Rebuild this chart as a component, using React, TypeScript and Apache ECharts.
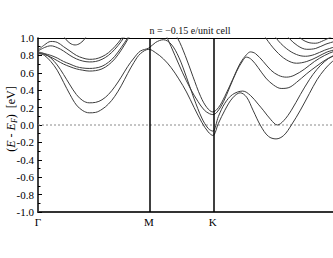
import React, { useEffect, useRef } from "react";
import * as echarts from "echarts";

const kM = 0.866;
const kK = 1.366;
const kView = 2.305;
const kTicks = [0, kM, kK];
const kLabels = ["Γ", "M", "K"];
const titleText = "n = −0.15 e/unit cell";
const yName = "{n|(}{i|E}{n| - }{i|E}{s|F}{n|)  [eV]}";
const fermi = [[0, 0], [kView, 0]];

const bandA = [
  [0, 0.83], [0.05, 0.8], [0.1, 0.73], [0.15, 0.63], [0.2, 0.49], [0.25, 0.35], [0.3, 0.23], [0.35, 0.165], [0.4, 0.14], [0.45, 0.145], [0.5, 0.18], [0.55, 0.24], [0.6, 0.33], [0.65, 0.45], [0.7, 0.59], [0.75, 0.72], [0.8, 0.82], [0.866, 0.87],
  [0.92, 0.83], [0.98, 0.76], [1.04, 0.66], [1.1, 0.53], [1.16, 0.38], [1.22, 0.2], [1.28, 0.03], [1.33, -0.08], [1.366, -0.12],
  [1.41, 0.02], [1.46, 0.17], [1.52, 0.31], [1.58, 0.37], [1.63, 0.32], [1.68, 0.17], [1.74, -0.01], [1.8, -0.13], [1.86, -0.16], [1.92, -0.12], [1.98, 0.0], [2.05, 0.17], [2.12, 0.36], [2.18, 0.52], [2.24, 0.64], [2.3, 0.73], [2.366, 0.79],
];
const bandB = [
  [0, 0.84], [0.05, 0.82], [0.1, 0.77], [0.15, 0.69], [0.2, 0.58], [0.25, 0.46], [0.3, 0.35], [0.35, 0.28], [0.4, 0.255], [0.45, 0.26], [0.5, 0.29], [0.55, 0.35], [0.6, 0.44], [0.65, 0.55], [0.7, 0.67], [0.75, 0.77], [0.8, 0.85], [0.866, 0.885],
  [0.92, 0.95], [0.98, 0.98], [1.04, 0.93], [1.1, 0.78], [1.16, 0.55], [1.22, 0.3], [1.28, 0.08], [1.33, -0.04], [1.366, -0.07],
  [1.41, 0.1], [1.46, 0.25], [1.52, 0.35], [1.6, 0.39], [1.66, 0.34], [1.72, 0.24], [1.76, 0.17], [1.82, 0.06], [1.87, 0.0], [1.92, 0.05], [1.98, 0.17], [2.05, 0.35], [2.12, 0.52], [2.18, 0.64], [2.24, 0.73], [2.3, 0.79], [2.366, 0.82],
];
const bandC = [
  [0, 0.82], [0.05, 0.81], [0.1, 0.78], [0.15, 0.74], [0.2, 0.7], [0.25, 0.67], [0.3, 0.645], [0.35, 0.63], [0.4, 0.62], [0.45, 0.625], [0.5, 0.645], [0.55, 0.69], [0.6, 0.76], [0.65, 0.86], [0.7, 0.98], [0.75, 1.1], [0.8, 1.2], [0.866, 1.25],
  [0.95, 1.18], [1.01, 1.0], [1.07, 0.8], [1.13, 0.6], [1.19, 0.42], [1.25, 0.27], [1.3, 0.17], [1.34, 0.13], [1.366, 0.12],
  [1.4, 0.15], [1.45, 0.27], [1.5, 0.44], [1.55, 0.61], [1.6, 0.74], [1.63, 0.78], [1.67, 0.75], [1.72, 0.66], [1.78, 0.54], [1.84, 0.46], [1.9, 0.42], [1.96, 0.43], [2.02, 0.49], [2.1, 0.59], [2.18, 0.68], [2.26, 0.76], [2.366, 0.83],
];
const bandD = [
  [0, 0.83], [0.05, 0.82], [0.1, 0.8], [0.15, 0.77], [0.2, 0.73], [0.25, 0.7], [0.3, 0.67], [0.35, 0.655], [0.4, 0.65], [0.45, 0.655], [0.5, 0.675], [0.55, 0.72], [0.6, 0.79], [0.65, 0.89], [0.7, 1.0], [0.75, 1.12], [0.8, 1.22], [0.866, 1.3],
  [0.95, 1.25], [1.03, 1.12], [1.09, 1.0], [1.15, 0.8], [1.21, 0.56], [1.27, 0.33], [1.32, 0.2], [1.366, 0.15],
  [1.41, 0.2], [1.46, 0.33], [1.52, 0.52], [1.58, 0.71], [1.63, 0.81], [1.66, 0.84], [1.7, 0.82], [1.76, 0.73], [1.82, 0.63], [1.88, 0.57], [1.94, 0.55], [2.0, 0.57], [2.08, 0.64], [2.16, 0.73], [2.24, 0.8], [2.32, 0.85], [2.366, 0.86],
];
const bandE = [
  [0, 0.85], [0.05, 0.89], [0.1, 0.91], [0.15, 0.89], [0.2, 0.85], [0.25, 0.8], [0.3, 0.76], [0.35, 0.735], [0.4, 0.725], [0.45, 0.73], [0.5, 0.755], [0.55, 0.8], [0.6, 0.87], [0.65, 0.96], [0.7, 1.07], [0.75, 1.18],
];
const bandF = [
  [0, 0.86], [0.05, 0.92], [0.1, 0.96], [0.15, 0.95], [0.2, 0.9], [0.25, 0.85], [0.3, 0.8], [0.35, 0.77], [0.4, 0.755], [0.45, 0.76], [0.5, 0.785], [0.55, 0.83], [0.6, 0.9], [0.65, 0.99], [0.7, 1.1], [0.75, 1.2],
];
const bandG = [
  [0.17, 1.12], [0.21, 1.0], [0.25, 0.94], [0.29, 0.92], [0.33, 0.94], [0.37, 1.0], [0.41, 1.12],
];
const bandH = [
  [1.72, 1.15], [1.78, 1.0], [1.86, 0.85], [1.94, 0.75], [2.02, 0.71], [2.1, 0.73], [2.18, 0.78], [2.26, 0.84], [2.366, 0.88],
];
const bandI = [
  [1.8, 1.15], [1.86, 1.0], [1.94, 0.88], [2.02, 0.81], [2.09, 0.79], [2.16, 0.81], [2.24, 0.86], [2.366, 0.92],
];
const bandJ = [
  [1.9, 1.12], [1.96, 1.0], [2.03, 0.91], [2.1, 0.87], [2.17, 0.88], [2.25, 0.93], [2.366, 0.98],
];
const bandK = [
  [2.0, 1.1], [2.05, 1.0], [2.11, 0.95], [2.17, 0.94], [2.23, 0.97], [2.3, 1.02],
];

const bands = [bandA, bandB, bandC, bandD, bandE, bandF, bandG, bandH, bandI, bandJ, bandK];

const FONT = "Liberation Serif";

export default function App() {
  const ref = useRef<HTMLDivElement>(null);
  useEffect(() => {
    if (!ref.current) return;
    const chart = echarts.init(ref.current, undefined, { renderer: "svg" });
    const series: any[] = bands.map((b, i) => ({
      type: "line",
      data: b,
      symbol: "none",
      showSymbol: false,
      smooth: 0.35,
      silent: true,
      clip: true,
      lineStyle: { color: "#3c3c3c", width: 1 },
      z: 2,
      markLine:
        i === 0
          ? {
              symbol: ["none", "none"],
              silent: true,
              label: { show: false },
              lineStyle: { color: "#000", width: 1.5, type: "solid" },
              data: [{ xAxis: kM }, { xAxis: kK }],
            }
          : undefined,
    }));
    series.push({
      type: "line",
      data: fermi,
      symbol: "none",
      silent: true,
      lineStyle: { color: "#8a8a8a", width: 1, type: [2, 2] },
      z: 1,
    });
    chart.setOption({
      animation: false,
      backgroundColor: "#fff",
      graphic: [
        {
          type: "text",
          x: 190,
          y: 25,
          style: {
            text: titleText,
            textAlign: "center",
            fontFamily: FONT,
            fontSize: 10,
            fill: "#111",
          },
        },
        {
          type: "text",
          x: 11,
          y: 119,
          rotation: Math.PI / 2,
          style: {
            text: yName,
            textAlign: "center",
            textVerticalAlign: "middle",
            fontFamily: FONT,
            fontSize: 12,
            fill: "#000",
            rich: {
              n: { fontFamily: FONT, fontSize: 12, fill: "#000", lineHeight: 14 },
              i: { fontFamily: FONT, fontSize: 12, fontStyle: "italic", fill: "#000", lineHeight: 14 },
              s: { fontFamily: FONT, fontSize: 8, fontStyle: "italic", fill: "#000", verticalAlign: "bottom", lineHeight: 14 },
            },
          },
        },
      ],
      grid: {
        left: 38,
        top: 38,
        right: 0,
        bottom: 46,
        show: false,
        containLabel: false,
        outerBoundsMode: "none",
      },
      xAxis: [
        {
          type: "value",
          min: 0,
          max: kView,
          axisLine: { show: true, onZero: false, lineStyle: { color: "#333", width: 2 } },
          axisTick: { show: false },
          splitLine: { show: false },
          axisLabel: {
            customValues: kTicks,
            formatter: (v: number) => {
              const idx = kTicks.findIndex((t) => Math.abs(t - v) < 1e-6);
              return idx >= 0 ? kLabels[idx] : "";
            },
            fontFamily: FONT,
            fontSize: 11,
            color: "#000",
            margin: 4,
          },
        },
        {
          type: "value",
          position: "top",
          min: 0,
          max: kView,
          axisLine: { show: true, onZero: false, lineStyle: { color: "#000", width: 1.2 } },
          axisTick: { show: false },
          axisLabel: { show: false },
          splitLine: { show: false },
        },
      ],
      yAxis: {
        type: "value",
        min: -1,
        max: 1,
        interval: 0.2,
        axisLine: { show: true, onZero: false, lineStyle: { color: "#000", width: 1.5 } },
        axisTick: { show: true, inside: true, length: 4, lineStyle: { color: "#000" } },
        minorTick: { show: true, splitNumber: 2, length: 2.5, lineStyle: { color: "#000" } },
        splitLine: { show: false },
        axisLabel: {
          formatter: (v: number) => (Math.abs(v) < 1e-9 ? "0.0" : v.toFixed(1)),
          fontFamily: FONT,
          fontSize: 11,
          color: "#000",
          margin: 4,
        },
      },
      series,
    });
    return () => chart.dispose();
  }, []);
  return (
    <div
      ref={ref}
      style={{ position: "fixed", left: 0, top: 0, width: 333, height: 258, background: "#fff" }}
    />
  );
}
